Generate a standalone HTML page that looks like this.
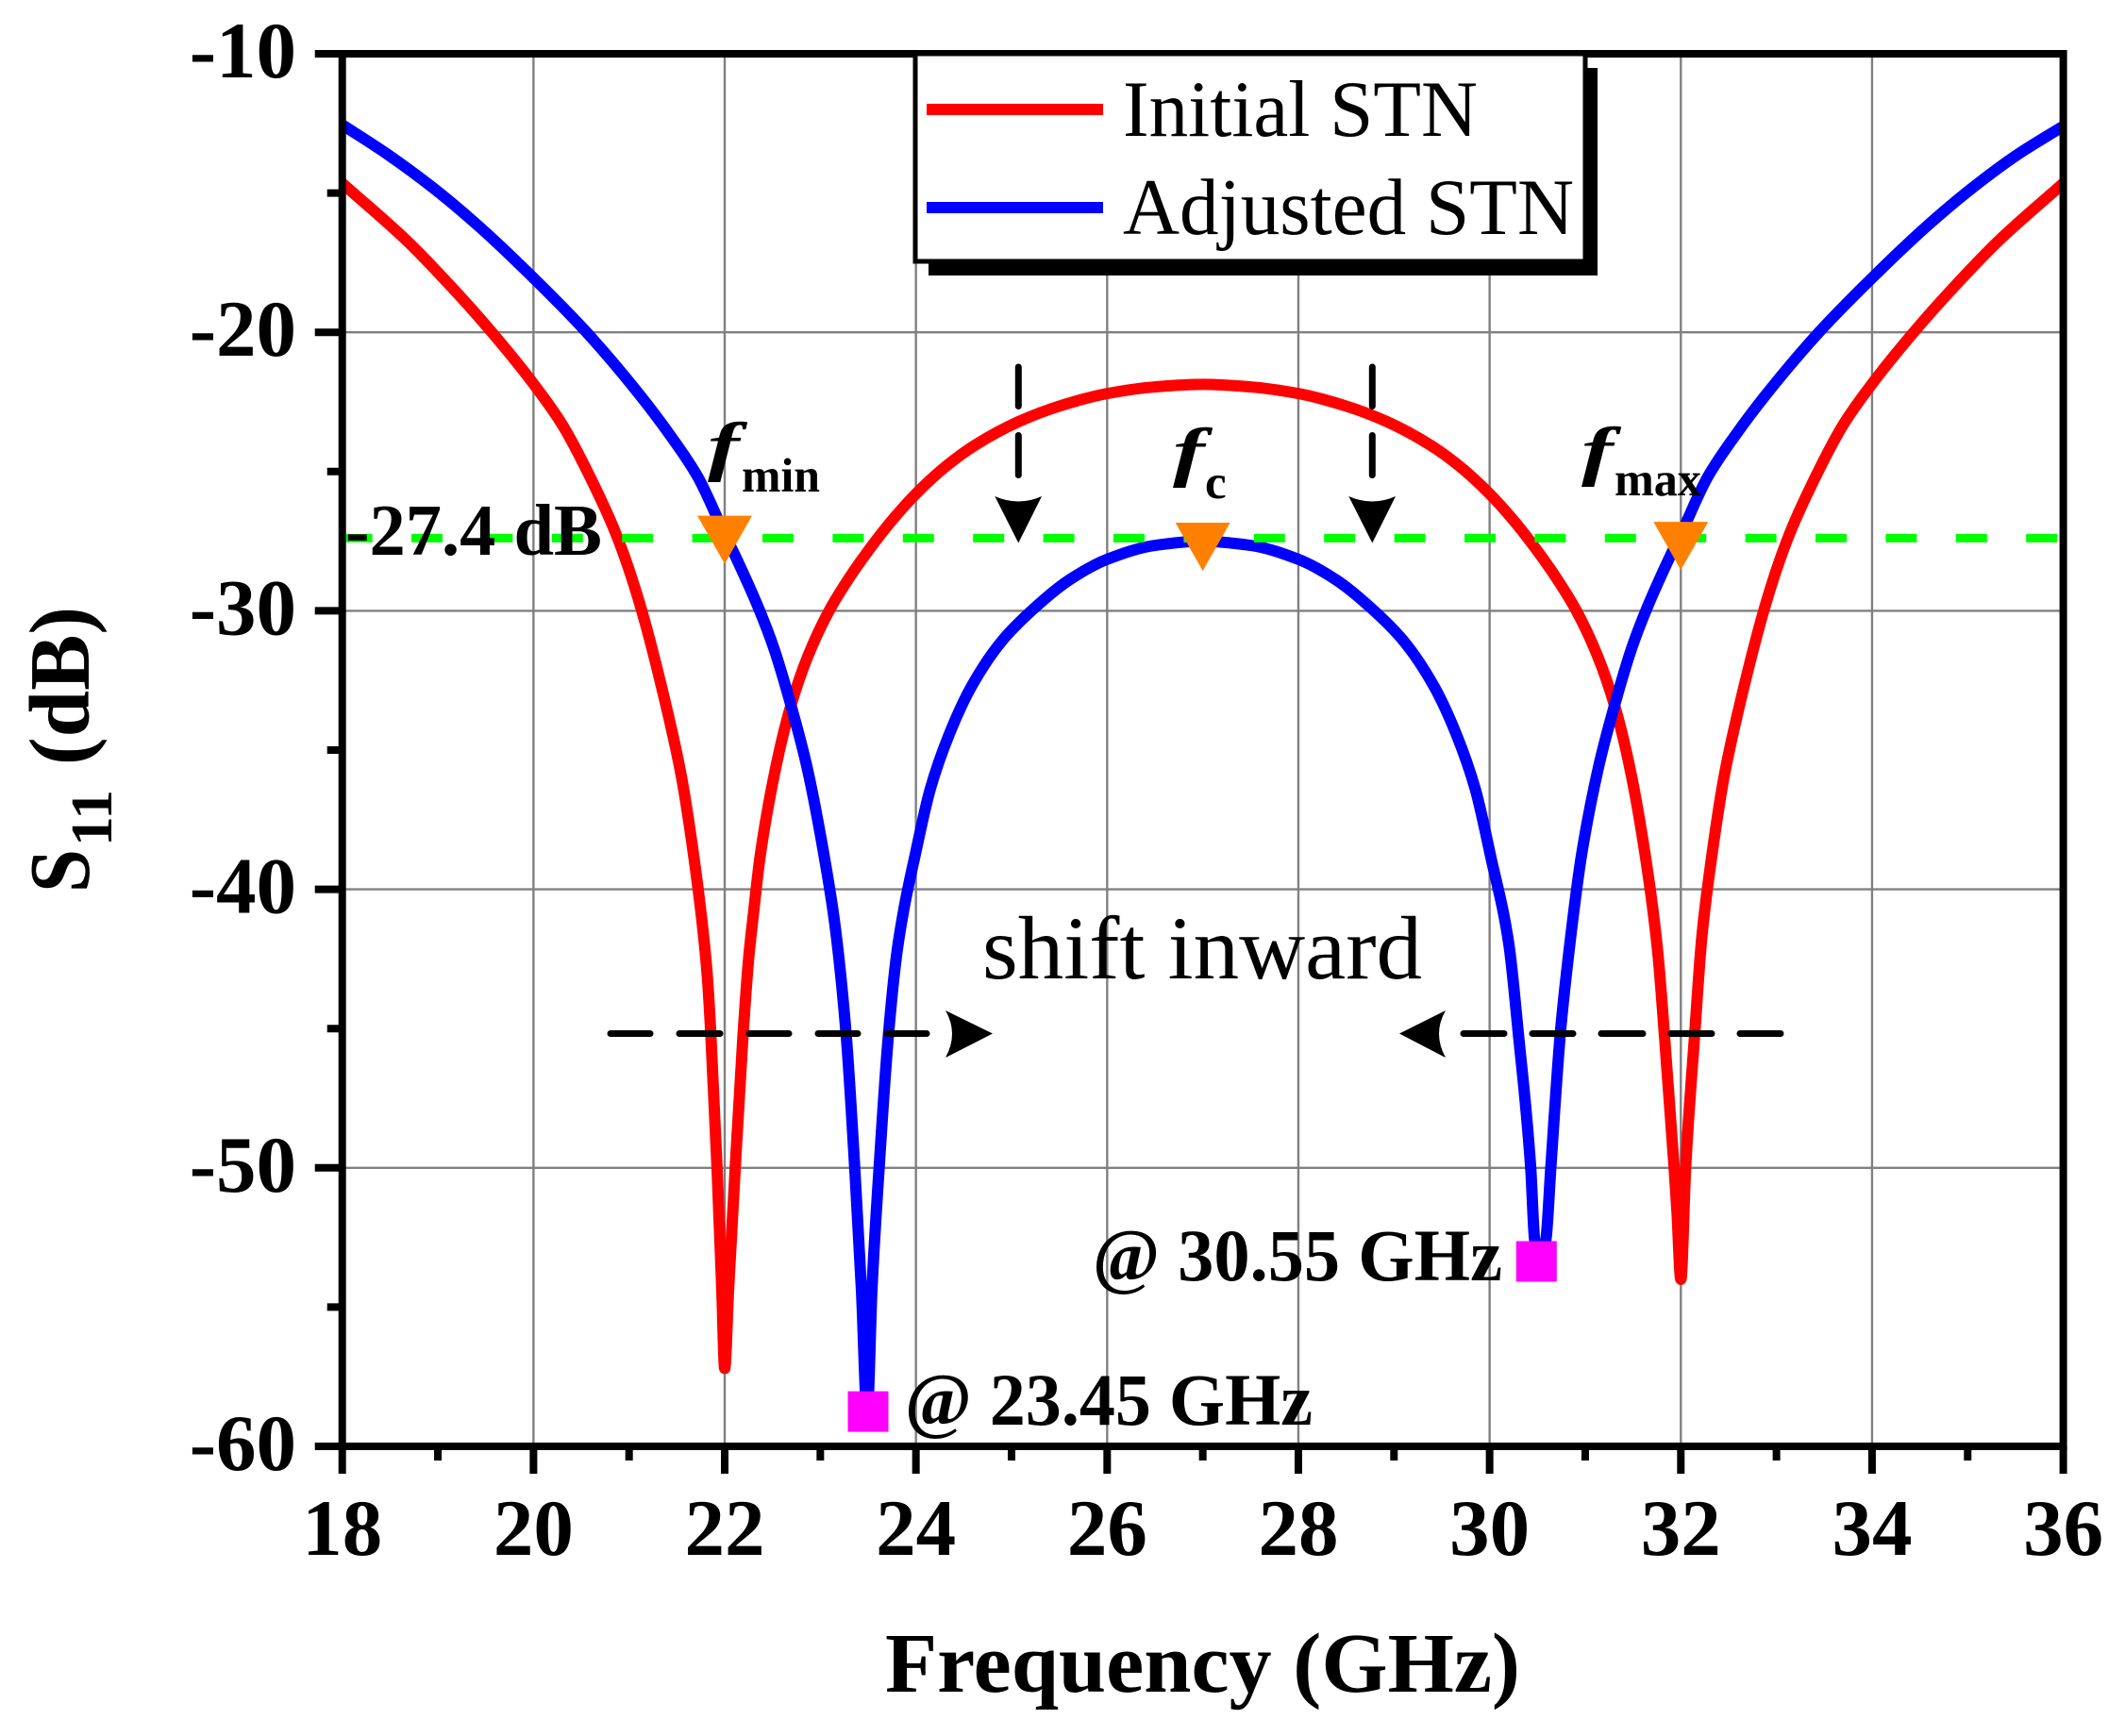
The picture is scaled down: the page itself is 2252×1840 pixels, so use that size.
<!DOCTYPE html>
<html lang="en">
<head>
<meta charset="utf-8">
<title>S11 vs Frequency</title>
<style>
html,body{margin:0;padding:0;background:#fff;}
svg{display:block;}
text{font-family:"Liberation Serif",serif;fill:#000;}
.b{font-weight:bold;}
</style>
</head>
<body>
<svg id="chart" xmlns="http://www.w3.org/2000/svg" width="2252" height="1840" viewBox="0 0 2252 1840">
<defs><clipPath id="plotClip"><rect x="362" y="57" width="1825" height="1476"/></clipPath></defs>
<rect x="0" y="0" width="2252" height="1840" fill="#fff"/>
<g id="grid"></g>
<g id="curves" clip-path="url(#plotClip)"></g>
<g id="reference"></g>
<g id="axes"></g>

<g>
  <rect x="984" y="72" width="709" height="220" fill="#000"/>
  <rect x="970" y="57" width="710" height="220" fill="#fff" stroke="#000" stroke-width="5"/>
  <rect x="982" y="110" width="187" height="12" fill="#ff0000"/>
  <text x="1190" y="144" font-size="85" textLength="376" lengthAdjust="spacingAndGlyphs">Initial STN</text>
  <rect x="982" y="214" width="187" height="12" fill="#0000ff"/>
  <text x="1190" y="248" font-size="85" textLength="478" lengthAdjust="spacingAndGlyphs">Adjusted STN</text>
</g>

<g>
  <path d="M1079.3 389V430.5M1079.3 461.5V503.5" stroke="#000" stroke-width="7" stroke-linecap="round" fill="none"/>
  <path d="M1054.3 526Q1079.3 537 1104 526L1079.3 575.5Z" fill="#000"/>
</g>
<g>
  <path d="M1454.3 389V430.5M1454.3 461.5V503.5" stroke="#000" stroke-width="7" stroke-linecap="round" fill="none"/>
  <path d="M1429.3 526Q1454.3 537 1479 526L1454.3 575.5Z" fill="#000"/>
</g>
<g>
  <path d="M647 1095.5H689M720 1095.5H763M794 1095.5H836M867 1095.5H909M940 1095.5H982" stroke="#000" stroke-width="7" stroke-linecap="round" fill="none"/>
  <path d="M1002 1071Q1016 1095.5 1002 1121L1052 1095.5Z" fill="#000"/>
</g>
<g>
  <path d="M1551 1095.5H1594M1624 1095.5H1667M1697 1095.5H1741M1771 1095.5H1814M1844 1095.5H1887" stroke="#000" stroke-width="7" stroke-linecap="round" fill="none"/>
  <path d="M1532 1071Q1518 1095.5 1532 1121L1483 1095.5Z" fill="#000"/>
</g>

<g id="markers"></g>

<g>
  <text class="b" x="366" y="588" font-size="77" textLength="272" lengthAdjust="spacingAndGlyphs">-27.4 dB</text>
  <text x="1041" y="1037" font-size="95" textLength="466" lengthAdjust="spacingAndGlyphs">shift inward</text>
  <text class="b" x="959" y="1510" font-size="78" textLength="432" lengthAdjust="spacingAndGlyphs">@ 23.45 GHz</text>
  <text class="b" x="1158" y="1357" font-size="78" textLength="434" lengthAdjust="spacingAndGlyphs">@ 30.55 GHz</text>
  <g>
    <text class="b" transform="translate(750,496) scale(1.45,1)" font-size="70" font-style="italic">f</text>
    <text class="b" x="786" y="521" font-size="51" textLength="83" lengthAdjust="spacingAndGlyphs">min</text>
  </g>
  <g>
    <text class="b" transform="translate(1243,502) scale(1.45,1)" font-size="70" font-style="italic">f</text>
    <text class="b" x="1277" y="528" font-size="51">c</text>
  </g>
  <g>
    <text class="b" transform="translate(1676,501) scale(1.45,1)" font-size="70" font-style="italic">f</text>
    <text class="b" x="1711" y="525" font-size="51" textLength="92" lengthAdjust="spacingAndGlyphs">max</text>
  </g>
  <text class="b" x="938" y="1793" font-size="90" textLength="673" lengthAdjust="spacingAndGlyphs">Frequency (GHz)</text>
  <g>
    <text class="b" transform="translate(94,946) rotate(-90)" font-size="91" textLength="46" lengthAdjust="spacingAndGlyphs">S</text>
    <text class="b" transform="translate(118,897) rotate(-90)" font-size="62" textLength="60" lengthAdjust="spacingAndGlyphs">11</text>
    <text class="b" transform="translate(94,811) rotate(-90)" font-size="91" textLength="168" lengthAdjust="spacingAndGlyphs">(dB)</text>
  </g>
</g>
</svg>
<script>
const xMajorTicks = [18, 20, 22, 24, 26, 28, 30, 32, 34, 36];
const xMinorTicks = [19, 21, 23, 25, 27, 29, 31, 33, 35];
const yMajorTicks = [-10, -20, -30, -40, -50, -60];
const yMinorTicks = [-15, -25, -35, -45, -55];

const initialFreq = [18,18.69,19.15,19.56,20,20.3,20.6,20.87,21.09,21.4,21.55,21.68,21.78,21.82,21.855,21.92,21.97,22,22.04,22.11,22.19,22.25,22.3,22.37,22.54,22.69,22.87,23.1,23.3,23.5,23.75,24,24.3,24.62,25.08,25.5,26,26.5,27,27.5,28,28.5,28.92,29.38,29.7,30,30.25,30.5,30.7,30.9,31.13,31.31,31.46,31.63,31.757,31.83,31.93,31.96,32,32.05,32.145,32.22,32.32,32.45,32.6,32.91,33.13,33.4,33.7,34,34.44,34.85,35.31,36];
const initialDb = [-14.65,-16.76,-18.4,-19.98,-21.85,-23.31,-25.25,-27.3,-29.5,-33.6,-36,-38.9,-41.7,-43.2,-45.2,-50,-54.4,-57.2,-54.4,-50,-45.33,-42.5,-40.9,-38.83,-35.53,-33.43,-31.63,-29.95,-28.83,-27.85,-26.75,-25.8,-24.85,-24.05,-23.2,-22.65,-22.2,-21.96,-21.87,-21.96,-22.2,-22.65,-23.2,-24.05,-24.85,-25.8,-26.75,-27.85,-28.83,-29.95,-31.63,-33.43,-35.53,-38.83,-42.2,-45.3,-50,-51.6,-54,-50,-45.2,-41.7,-38.9,-36,-33.6,-29.5,-27.3,-25.25,-23.31,-21.85,-19.98,-18.4,-16.76,-14.65];

const adjustedFreq = [18,18.47,18.96,19.45,20,20.55,21.1,21.43,21.72,22,22.12,22.36,22.51,22.71,22.86,23.04,23.15,23.27,23.36,23.43,23.49,23.54,23.615,23.71,23.8,23.88,23.99,24.15,24.35,24.58,24.9,25.24,25.6,26,26.5,27,27.5,28,28.4,28.76,29.1,29.42,29.65,29.85,30.01,30.2,30.3,30.43,30.47,30.53,30.59,30.64,30.74,30.84,30.96,31.14,31.29,31.49,31.64,31.88,32,32.28,32.57,32.9,33.45,34,34.55,35.04,35.53,36];
const adjustedDb = [-12.55,-13.6,-14.84,-16.26,-18.05,-19.98,-22.2,-23.7,-25.2,-27.25,-28.1,-29.95,-31.3,-33.6,-35.6,-38.8,-41.2,-45.2,-50,-54.37,-58.8,-54.37,-50,-45.33,-42.3,-40.6,-38.8,-36.4,-34.42,-32.72,-31.08,-29.9,-28.9,-28.15,-27.65,-27.5,-27.65,-28.15,-28.9,-29.9,-31.08,-32.72,-34.42,-36.4,-38.8,-41.94,-45.16,-50,-52.55,-53.4,-52.55,-50,-45.16,-41.94,-38.8,-35.6,-33.6,-31.3,-29.95,-28.1,-27.25,-25.2,-23.7,-22.2,-19.98,-18.05,-16.26,-14.84,-13.6,-12.6];

const thresholdDb = [-27.39];
const triangleFreq = [22, 27, 32];
const triangleDb = [-27.45, -27.7, -27.67];
const squareFreq = [23.5, 30.49];
const squareDb = [-58.75, -53.36];

const SVG_NS = 'http://www.w3.org/2000/svg';
const xMin = 18, xMax = 36, yTop = -10, yBottom = -60;
const plotLeft = 362.7, plotRight = 2186.6, plotTop = 57, plotBottom = 1533;
function xScale(f){ return plotLeft + (f - xMin) * (plotRight - plotLeft) / (xMax - xMin); }
function yScale(d){ return plotTop + (yTop - d) * (plotBottom - plotTop) / (yTop - yBottom); }

function make(tag, parent, attrs){
  const el = document.createElementNS(SVG_NS, tag);
  for (const k in attrs) el.setAttribute(k, attrs[k]);
  parent.appendChild(el);
  return el;
}

/* monotone cubic path through the data points */
function curvePath(fs, ds){
  const px = fs.map(xScale), py = ds.map(yScale), n = px.length;
  const sl = [];
  for (let i = 0; i < n - 1; i++) sl.push((py[i+1] - py[i]) / (px[i+1] - px[i]));
  const m = [sl[0]];
  for (let i = 1; i < n - 1; i++) {
    if (sl[i-1] * sl[i] <= 0) { m.push(0); continue; }
    const h0 = px[i] - px[i-1], h1 = px[i+1] - px[i];
    const w1 = 2 * h1 + h0, w2 = h1 + 2 * h0;
    m.push((w1 + w2) / (w1 / sl[i-1] + w2 / sl[i]));
  }
  m.push(sl[n-2]);
  let d = 'M' + px[0].toFixed(2) + ' ' + py[0].toFixed(2);
  for (let i = 0; i < n - 1; i++) {
    const h = (px[i+1] - px[i]) / 3;
    d += 'C' + (px[i] + h).toFixed(2) + ' ' + (py[i] + m[i] * h).toFixed(2) + ' '
      + (px[i+1] - h).toFixed(2) + ' ' + (py[i+1] - m[i+1] * h).toFixed(2) + ' '
      + px[i+1].toFixed(2) + ' ' + py[i+1].toFixed(2);
  }
  return d;
}

const grid = document.getElementById('grid');
const curves = document.getElementById('curves');
const reference = document.getElementById('reference');
const axes = document.getElementById('axes');
const markers = document.getElementById('markers');

xMajorTicks.slice(1, -1).forEach(function(t){
  const l = make('line', grid, {x1: xScale(t), x2: xScale(t), y1: plotTop, y2: plotBottom, stroke: '#808080', 'stroke-width': 2.4});
  
  
});
yMajorTicks.slice(1, -1).forEach(function(t){
  const l = make('line', grid, {x1: plotLeft, x2: plotRight, y1: yScale(t), y2: yScale(t), stroke: '#808080', 'stroke-width': 2.4});
  
  
});

const redCurve = make('path', curves, {d: curvePath(initialFreq, initialDb), fill: 'none', stroke: '#ff0000', 'stroke-width': 12, 'stroke-linejoin': 'round', 'stroke-linecap': 'butt'});


const blueCurve = make('path', curves, {d: curvePath(adjustedFreq, adjustedDb), fill: 'none', stroke: '#0000ff', 'stroke-width': 12, 'stroke-linejoin': 'round', 'stroke-linecap': 'butt'});



const refLine = make('line', reference, {x1: 367, x2: 2182, y1: yScale(thresholdDb[0]), y2: yScale(thresholdDb[0]), stroke: '#00ff00', 'stroke-width': 9, 'stroke-dasharray': '33 41.4', 'stroke-dashoffset': 5.4});



const frame = make('rect', axes, {x: plotLeft, y: plotTop, width: plotRight - plotLeft, height: plotBottom - plotTop, fill: 'none', stroke: '#000', 'stroke-width': 8});



xMajorTicks.forEach(function(t){
  const l = make('line', axes, {x1: xScale(t), x2: xScale(t), y1: plotBottom, y2: plotBottom + 29, stroke: '#000', 'stroke-width': 8});
  
  
  const s = make('text', axes, {x: xScale(t), y: 1648, 'font-size': 85, 'text-anchor': 'middle', class: 'b'});
  
  
  s.textContent = String(t);
});
xMinorTicks.forEach(function(t){
  const l = make('line', axes, {x1: xScale(t), x2: xScale(t), y1: plotBottom, y2: plotBottom + 15, stroke: '#000', 'stroke-width': 8});
  
  
});
yMajorTicks.forEach(function(t){
  const l = make('line', axes, {x1: plotLeft - 29, x2: plotLeft, y1: yScale(t), y2: yScale(t), stroke: '#000', 'stroke-width': 8});
  
  
  const s = make('text', axes, {x: 314, y: yScale(t) + 25, 'font-size': 85, 'text-anchor': 'end', class: 'b'});
  
  
  s.textContent = String(t);
});
yMinorTicks.forEach(function(t){
  const l = make('line', axes, {x1: plotLeft - 16, x2: plotLeft, y1: yScale(t), y2: yScale(t), stroke: '#000', 'stroke-width': 8});
  
  
});

triangleFreq.forEach(function(f, i){
  const cx = xScale(f), cy = yScale(triangleDb[i]);
  const p = make('polygon', markers, {points: (cx - 29) + ',' + (cy - 25.5) + ' ' + (cx + 29) + ',' + (cy - 25.5) + ' ' + cx + ',' + (cy + 25.5), fill: '#ff8000'});
  
  
});
squareFreq.forEach(function(f, i){
  const r = make('rect', markers, {x: xScale(f) - 21.5, y: yScale(squareDb[i]) - 21.5, width: 43, height: 43, fill: '#ff00ff'});
  
  
});
</script>
</body>
</html>
